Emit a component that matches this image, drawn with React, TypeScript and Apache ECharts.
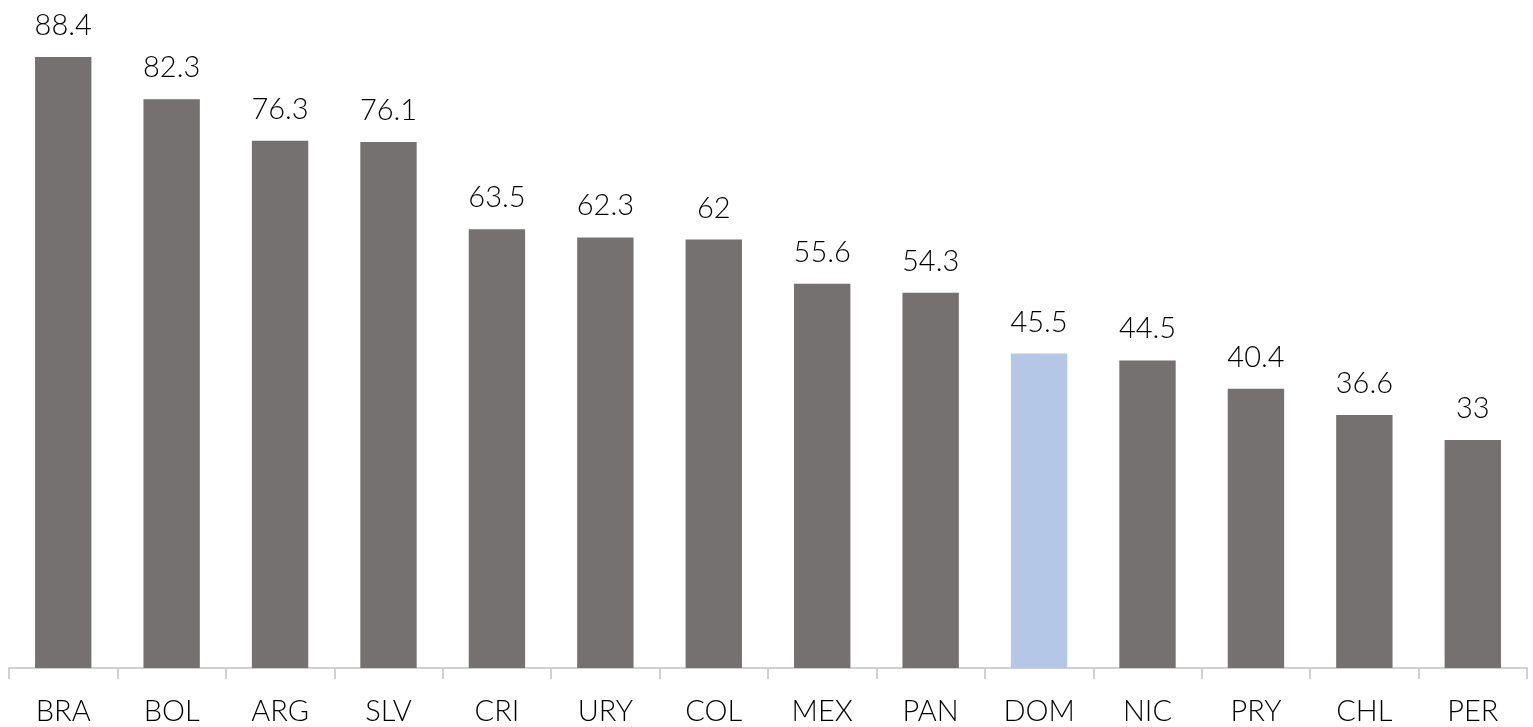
import React, { useEffect, useRef } from "react";
import * as echarts from "echarts";

const categories = ["BRA", "BOL", "ARG", "SLV", "CRI", "URY", "COL", "MEX", "PAN", "DOM", "NIC", "PRY", "CHL", "PER"];
const values = [88.4, 82.3, 76.3, 76.1, 63.5, 62.3, 62, 55.6, 54.3, 45.5, 44.5, 40.4, 36.6, 33];
const highlight = "DOM";

export default function App() {
  const ref = useRef<HTMLDivElement>(null);
  useEffect(() => {
    if (!ref.current) return;
    const chart = echarts.init(ref.current, null, { renderer: "svg" });
    const font = "Lato, 'Noto Sans', sans-serif";
    chart.setOption({
      animation: false,
      grid: { left: 9, right: 6, top: 46, bottom: 59, containLabel: false },
      xAxis: {
        type: "category",
        data: categories,
        axisLine: { lineStyle: { color: "#d0d0d0", width: 2 } },
        axisTick: { show: true, interval: 0, length: 11, lineStyle: { color: "#d0d0d0", width: 2 } },
        axisLabel: {
          color: "#000",
          fontSize: 29,
          lineHeight: 29,
          fontWeight: 300,
          fontFamily: font,
          margin: 27,
          interval: 0,
        },
      },
      yAxis: {
        type: "value",
        min: 0,
        max: 90,
        axisLabel: { show: false },
        axisLine: { show: false },
        axisTick: { show: false },
        splitLine: { show: false },
      },
      series: [
        {
          type: "bar",
          barWidth: "52%",
          data: categories.map((c, i) => ({
            value: values[i],
            itemStyle: { color: c === highlight ? "#b4c7e7" : "#767171" },
          })),
          label: {
            show: true,
            position: "top",
            distance: 19,
            color: "#000",
            fontSize: 29,
            fontWeight: 300,
            fontFamily: font,
          },
        },
      ],
    });
    return () => chart.dispose();
  }, []);
  return <div ref={ref} style={{ position: "fixed", left: 0, top: 0, width: 1533, height: 727 }} />;
}
